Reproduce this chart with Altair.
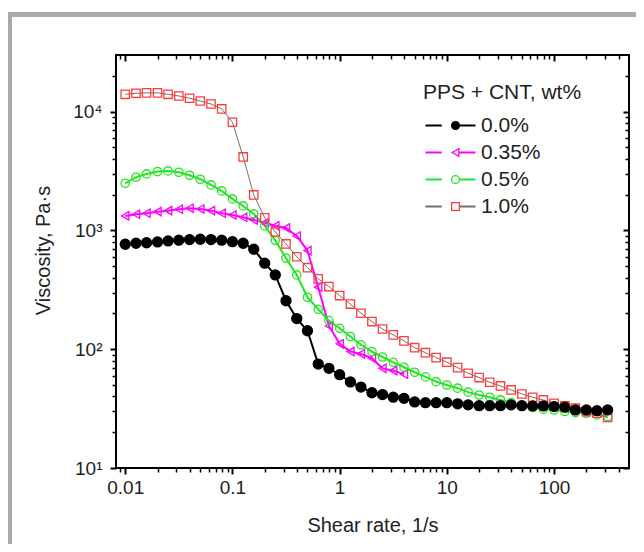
import altair as alt
import pandas as pd

# ---------------- data ----------------
shear_rate = [0.01, 0.0126, 0.0158, 0.02, 0.0251, 0.0316, 0.0398, 0.0501, 0.0631, 0.0794,
              0.1, 0.126, 0.158, 0.2, 0.251, 0.316, 0.398, 0.501, 0.631, 0.794,
              1, 1.26, 1.58, 2, 2.51, 3.16, 3.98, 5.01, 6.31, 7.94,
              10, 12.6, 15.8, 20, 25.1, 31.6, 39.8, 50.1, 63.1, 79.4,
              100, 126, 158, 200, 251, 316]

series_names = ["0.0%", "0.35%", "0.5%", "1.0%"]

visc_00 = [765, 780, 788, 800, 816, 828, 838, 843, 838, 828,
           805, 780, 695, 530, 422, 256, 181, 143, 75, 69,
           61, 53, 48, 43, 41.5, 39.5, 38.6, 36, 35.5, 35.5,
           35.5, 34.7, 34, 33.5, 33.5, 33.5, 34, 33.5, 33.3, 33.3,
           32.9, 32.5, 30.8, 30.8, 30.4, 30.8]

visc_035 = [1325, 1368, 1395, 1440, 1468, 1507, 1538, 1517, 1468, 1395,
            1349, 1290, 1225, 1160, 1095, 1050, 899, 677, 333, 157,
            111, 95.5, 91.3, 84, 69, 66, 61.7]

visc_05 = [2496, 2805, 2990, 3130, 3170, 3090, 2915, 2700, 2416, 2152,
           1843, 1608, 1377, 1092, 826, 583, 422, 274, 217, 174,
           150, 128, 109, 95.5, 86, 77.5, 70.5, 64, 58.5, 53.3,
           50, 47, 43.5, 41.2, 39.4, 37.4, 35.5, 33.3, 32.3, 31.3,
           30.8, 29.9, 29.3, 28.9, 28, 27.1]

visc_10 = [14000, 14300, 14400, 14400, 14000, 13550, 12970, 12300, 11600, 10540,
           8150, 4160, 1990, 1280, 970, 770, 601, 486, 391, 337,
           283, 240, 201, 171, 148, 132, 117.6, 103, 93.5, 85,
           77.8, 70, 62.8, 57.7, 52.7, 49.1, 45.4, 42, 39.4, 37.4,
           35.1, 33.3, 31.9, 29.8, 28.9, 26.6]

x_major = [0.01, 0.1, 1, 10, 100]
x_minor = [0.009] + [m * d for d in (0.01, 0.1, 1, 10) for m in range(2, 10)] + [200, 300, 400]
y_major = [10, 100, 1000, 10000]
y_minor = [m * d for d in (10, 100, 1000) for m in range(2, 10)] + [20000]

line_colors = ["#000000", "#ff00ff", "#22e622", "#707070"]
marker_strokes = ["#000000", "#ff00ff", "#22e622", "#ff3b3b"]
marker_fills = ["#000000", "transparent", "transparent", "transparent"]
marker_shapes = ["circle", "triangle-left", "circle", "square"]

# marker series keys differ (trailing space) so that the marker legend stays separate
pt_names = [n + " " for n in series_names]

rows = []
for name, pname, vals in zip(series_names, pt_names, [visc_00, visc_035, visc_05, visc_10]):
    for r, v in zip(shear_rate, vals):
        rows.append({"rate": r, "visc": v, "series": name, "series_pt": pname})
df = pd.DataFrame(rows)

# ---------------- chart ----------------
W, H = 513, 413
FONT = "Liberation Sans"
TXT = "#222222"

xscale = alt.Scale(type="log", domain=[0.0082, 500], nice=False)
yscale = alt.Scale(type="log", domain=[10, 30000], nice=False)

y_label_expr = ("datum.value == 10 ? '10\u00b9' : datum.value == 100 ? '10\u00b2' : "
                "datum.value == 1000 ? '10\u00b3' : '10\u2074'")
x_label_expr = "datum.value >= 1 ? format(datum.value, 'd') : format(datum.value, '.2~f')"


def ax(orient, values, size, width, labels=False, offset=0, **kw):
    return alt.Axis(orient=orient, values=values, tickSize=size, tickWidth=width,
                    tickColor="black", domain=False, grid=False, labels=labels,
                    offset=offset, **kw)


color_scale = alt.Scale(domain=series_names, range=line_colors)
shape_scale = alt.Scale(domain=pt_names, range=marker_shapes)
stroke_scale = alt.Scale(domain=pt_names, range=marker_strokes)
fill_scale = alt.Scale(domain=pt_names, range=marker_fills)

legend_common = dict(
    orient="none", legendX=307, legendY=27,
    titleFontSize=21, titleFontWeight="normal", titleFont=FONT,
    labelFontSize=21, labelFont=FONT, padding=0, rowPadding=5, titlePadding=12,
)

line_legend = alt.Legend(
    title="PPS + CNT, wt%", titleColor=TXT, labelColor=TXT,
    symbolType="M-5,0H-1.75M1.75,0H5", symbolSize=100, symbolStrokeWidth=2,
    symbolFillColor="transparent", symbolOffset=17, labelOffset=20,
    **legend_common,
)

# marker overlay legend: blank title/labels keep the same row layout
pt_legend = alt.Legend(
    title=" ", labelExpr="' '",
    symbolSize=60, symbolStrokeWidth=1.3, symbolOffset=22,
    **legend_common,
)

lines = alt.Chart(df[df["series"] != "1.0%"]).mark_line(strokeWidth=2).encode(
    x=alt.X("rate:Q", scale=xscale,
            axis=ax("bottom", x_major, 6, 2, labels=True, labelExpr=x_label_expr,
                    labelFontSize=19, labelColor=TXT, labelFont=FONT, labelPadding=4,
                    title="Shear rate, 1/s", titleFontSize=20, titleFontWeight="normal",
                    titleColor=TXT, titleFont=FONT, titleY=57, titleBaseline="middle")),
    y=alt.Y("visc:Q", scale=yscale,
            axis=ax("left", y_major, 6, 2, labels=True, labelExpr=y_label_expr,
                    labelFontSize=19, labelColor=TXT, labelFont=FONT, labelPadding=8,
                    title="Viscosity, Pa\u00b7s", titleFontSize=20, titleFontWeight="normal",
                    titleColor=TXT, titleFont=FONT, titleX=-73, titleY=195,
                    titleBaseline="middle", titleAngle=270)),
    color=alt.Color("series:N", scale=color_scale, legend=line_legend),
    order="rate:Q",
)

red_line = alt.Chart(df[df["series"] == "1.0%"]).mark_line(strokeWidth=1).encode(
    x=alt.X("rate:Q", scale=xscale, axis=ax("bottom", x_minor, 4, 1.5, title=None)),
    y=alt.Y("visc:Q", scale=yscale, axis=ax("left", y_minor, 4, 1.5, title=None)),
    color=alt.Color("series:N", scale=color_scale, legend=line_legend),
    order="rate:Q",
)


def marker_enc():
    return dict(
        shape=alt.Shape("series_pt:N", scale=shape_scale, legend=pt_legend),
        stroke=alt.Stroke("series_pt:N", scale=stroke_scale, legend=pt_legend),
        fill=alt.Fill("series_pt:N", scale=fill_scale, legend=pt_legend),
    )


points_filled = alt.Chart(df[df["series"] == "0.0%"]).mark_point(
    size=100, strokeWidth=1.3, opacity=1
).encode(
    x=alt.X("rate:Q", scale=xscale, axis=ax("top", x_major, 6, 2, offset=-6, title=None)),
    y=alt.Y("visc:Q", scale=yscale, axis=ax("right", y_major, 6, 2, offset=-6, title=None)),
    **marker_enc(),
)

points_open = alt.Chart(df[df["series"] != "0.0%"]).mark_point(
    size=70, strokeWidth=1.3, opacity=1
).encode(
    x=alt.X("rate:Q", scale=xscale, axis=ax("top", x_minor, 4, 1.5, offset=-4, title=None)),
    y=alt.Y("visc:Q", scale=yscale, axis=ax("right", y_minor, 4, 1.5, offset=-4, title=None)),
    **marker_enc(),
)

frame_df = pd.DataFrame({"k": [0]})
frame_left = alt.Chart(frame_df).mark_rule(color="#aaaaae", strokeWidth=4).encode(
    x=alt.value(-106), y=alt.value(-43), y2=alt.value(H + 90)
)
frame_top = alt.Chart(frame_df).mark_rule(color="#aaaaae", strokeWidth=5).encode(
    x=alt.value(-108), x2=alt.value(W + 20), y=alt.value(-40.5)
)

chart = (
    alt.layer(frame_left, frame_top, lines, red_line, points_open, points_filled)
    .resolve_axis(x="independent", y="independent")
    .properties(width=W, height=H,
                autosize=alt.AutoSizeParams(type="none"),
                padding={"left": 108, "top": 47, "right": 7, "bottom": 76})
    .configure(font=FONT)
    .configure_view(stroke="black", strokeWidth=2)
)

chart.save("out.html", embed_options={"renderer": "svg", "actions": False})
